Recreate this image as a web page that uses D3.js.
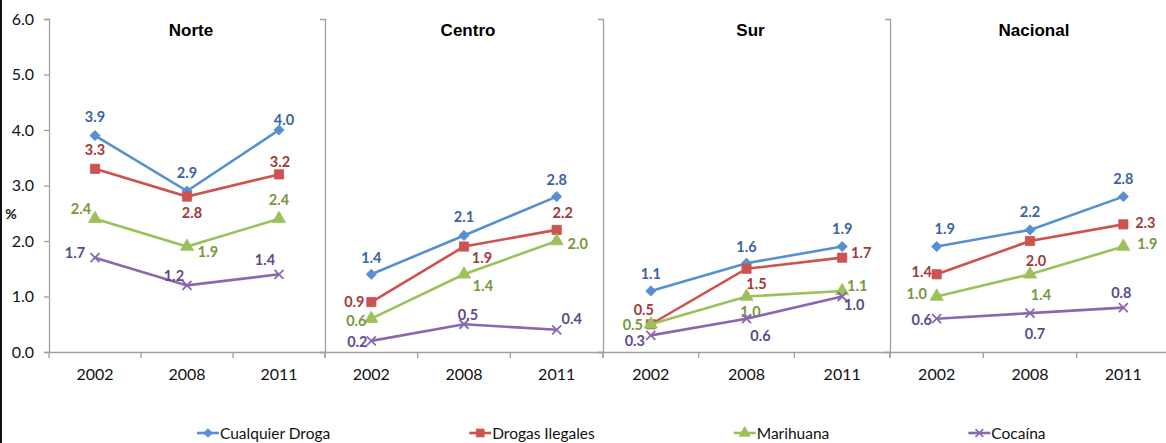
<!DOCTYPE html>
<html>
<head>
<meta charset="utf-8">
<script src="https://cdn.jsdelivr.net/npm/d3@7"></script>
<style>
  body { margin: 0; background: #fff; }
  svg { display: block; }
</style>
</head>
<body>
<script>
// data
const panels = ['Norte', 'Centro', 'Sur', 'Nacional']
const years = ['2002', '2008', '2011']
const seriesNames = ['Cualquier Droga', 'Drogas Ilegales', 'Marihuana', 'Cocaína']
const yTicks = [0, 1, 2, 3, 4, 5, 6]

// one row per panel, values by year
const cualquierDroga = [[3.9, 2.9, 4.0], [1.4, 2.1, 2.8], [1.1, 1.6, 1.9], [1.9, 2.2, 2.8]]
const drogasIlegales = [[3.3, 2.8, 3.2], [0.9, 1.9, 2.2], [0.5, 1.5, 1.7], [1.4, 2.0, 2.3]]
const marihuana = [[2.4, 1.9, 2.4], [0.6, 1.4, 2.0], [0.5, 1.0, 1.1], [1.0, 1.4, 1.9]]
const cocaina = [[1.7, 1.2, 1.4], [0.2, 0.5, 0.4], [0.3, 0.6, 1.0], [0.6, 0.7, 0.8]]

// label nudges [dx, dy] per series / panel / year
const labelOffsets = [
    [[[0, -19], [0, -19], [5, -11]], [[0, -17], [0, -19], [0, -17]], [[0, -17], [0, -17], [0, -18]], [[8, -18], [0, -18], [0, -18]]],
    [[[0, -19], [5, 16], [1, -13]], [[-17, -1], [18, 11], [6, -17]], [[-7, -15], [10, 15], [19, -5]], [[-15, -3], [6, 19], [22, -2]]],
    [[[-14, -10], [21, 5], [0, -19]], [[-15, 2], [19, 11], [21, 2]], [[-18, 0], [4, 15], [15, -5]], [[-20, -3], [11, 20], [24, -3]]],
    [[[-20, -5], [-13, -10], [-14, -15]], [[-14, 1], [4, -10], [15, -11]], [[-16, 5], [14, 17], [12, 8]], [[-15, 1], [5, 20], [-2, -15]]]
]

const w = 1166
const h = 443
const panelEdges = [49, 325, 603, 890, 1170]
const lineColors = ['#5690CF', '#CC534F', '#9DC15A', '#8A68B0']
const labelColors = ['#3A63A0', '#A23A37', '#77973A', '#5F4A8C']
const axisColor = '#A0A0A0'
const font = 'Lato, "Open Sans", sans-serif'

const allSeries = [cualquierDroga, drogasIlegales, marihuana, cocaina]

const svg = d3.select('body')
    .append('svg')
        .attr('width', w)
        .attr('height', h)

// left border
svg.append('rect')
    .attr('x', 0)
    .attr('y', 0)
    .attr('width', 2)
    .attr('height', h)
    .attr('fill', '#111')

const yScale = d3.scaleLinear()
    .domain([0, 6])
    .range([352, 19])

const markerPath = (i, k = 1) => {
    if (i === 0) return d3.symbol(d3.symbolSquare, 52 * k * k)()
    if (i === 1) return d3.symbol(d3.symbolSquare, 85 * k * k)()
    if (i === 2) return d3.symbol(d3.symbolTriangle, 75 * k * k)()
    const r = 4.5 * k
    return `M${-r},${-r}L${r},${r}M${-r},${r}L${r},${-r}`
}
const markerRotate = i => (i === 0 ? ' rotate(45)' : '')

// y axis with labels (first panel only)
const yAxis = d3.axisLeft(yScale)
    .tickValues(yTicks)
    .tickSize(5)
    .tickPadding(10)
    .tickFormat(d3.format('.1f'))

const yG = svg.append('g')
    .attr('transform', `translate(${panelEdges[0]}, 0)`)
    .call(yAxis)
yG.selectAll('path, line').attr('stroke', axisColor).attr('stroke-width', 1.3)
yG.selectAll('text')
    .attr('font-family', font)
    .attr('font-size', 16)
    .attr('fill', '#111')

svg.append('text')
    .attr('x', 11)
    .attr('y', 213)
    .attr('text-anchor', 'middle')
    .attr('dominant-baseline', 'central')
    .attr('font-family', font)
    .attr('font-size', 14)
    .attr('font-weight', 'bold')
    .attr('fill', '#111')
    .text('%')

panels.forEach((panel, p) => {
    const x0 = panelEdges[p]
    const x1 = panelEdges[p + 1]

    const xScale = d3.scaleBand()
        .domain(years)
        .range([x0, x1])

    // panel divider (left axis of other panels)
    if (p > 0) {
        const sepG = svg.append('g')
            .attr('transform', `translate(${x0}, 0)`)
            .call(d3.axisLeft(yScale).tickValues([0]).tickSize(5).tickFormat(''))
        sepG.selectAll('path, line').attr('stroke', axisColor).attr('stroke-width', 1.3)
    }

    // x axis
    const xG = svg.append('g')
        .attr('transform', `translate(0, ${yScale(0)})`)
        .call(d3.axisBottom(xScale).tickSize(0).tickPadding(17))
    xG.select('.domain').attr('stroke', axisColor).attr('stroke-width', 1.3)
    xG.selectAll('text')
        .attr('font-family', font)
        .attr('font-size', 16)
        .attr('fill', '#111')

    // boundary ticks between categories
    svg.append('g')
        .selectAll('line')
        .data([...years.map(d => xScale(d)), x1])
        .enter()
        .append('line')
            .attr('x1', d => d)
            .attr('x2', d => d)
            .attr('y1', yScale(0))
            .attr('y2', yScale(0) + 6)
            .attr('stroke', axisColor)
            .attr('stroke-width', 1.3)

    // panel title
    svg.append('text')
        .attr('x', xScale(years[1]) + xScale.bandwidth() / 2 + 4)
        .attr('y', 30)
        .attr('text-anchor', 'middle')
        .attr('dominant-baseline', 'central')
        .attr('font-family', '"Liberation Sans", Arial, sans-serif')
        .attr('font-size', 17)
        .attr('font-weight', 'bold')
        .attr('fill', '#000')
        .text(panel)

    const cx = d => xScale(d) + xScale.bandwidth() / 2

    allSeries.forEach((series, s) => {
        const values = series[p].map((v, i) => ({ year: years[i], value: v, i }))

        const line = d3.line()
            .x(d => cx(d.year))
            .y(d => yScale(d.value))

        svg.append('path')
            .datum(values)
            .attr('d', line)
            .attr('fill', 'none')
            .attr('stroke', lineColors[s])
            .attr('stroke-width', 2.6)

        svg.append('g')
            .selectAll('path')
            .data(values)
            .enter()
            .append('path')
                .attr('d', markerPath(s))
                .attr('transform', d => `translate(${cx(d.year)}, ${yScale(d.value)})${markerRotate(s)}`)
                .attr('fill', s === 3 ? 'none' : lineColors[s])
                .attr('stroke', lineColors[s])
                .attr('stroke-width', s === 3 ? 1.8 : 0.8)

        svg.append('g')
            .selectAll('text')
            .data(values)
            .enter()
            .append('text')
                .attr('x', d => cx(d.year) + labelOffsets[s][p][d.i][0])
                .attr('y', d => yScale(d.value) + labelOffsets[s][p][d.i][1])
                .attr('text-anchor', 'middle')
                .attr('dominant-baseline', 'central')
                .attr('font-family', font)
                .attr('font-size', 14.5)
                .attr('font-weight', 'bold')
                .attr('fill', labelColors[s])
                .text(d => d3.format('.1f')(d.value))
    })
})

// legend
const legend = svg.append('g')
    .attr('transform', 'translate(0, 433)')

let lx = 197
seriesNames.forEach((name, s) => {
    const item = legend.append('g')
        .attr('transform', `translate(${lx}, 0)`)
    item.append('line')
        .attr('x1', 0)
        .attr('x2', 22)
        .attr('stroke', lineColors[s])
        .attr('stroke-width', 2.6)
    item.append('path')
        .attr('d', markerPath(s, 0.85))
        .attr('transform', `translate(11, 0)${markerRotate(s)}`)
        .attr('fill', s === 3 ? 'none' : lineColors[s])
        .attr('stroke', lineColors[s])
        .attr('stroke-width', s === 3 ? 1.6 : 0.8)
    const t = item.append('text')
        .attr('x', 23)
        .attr('dominant-baseline', 'central')
        .attr('font-family', font)
        .attr('font-size', 15.5)
        .attr('fill', '#111')
        .text(name)
    lx += 23 + t.node().getComputedTextLength() + 139
})
</script>
</body>
</html>
